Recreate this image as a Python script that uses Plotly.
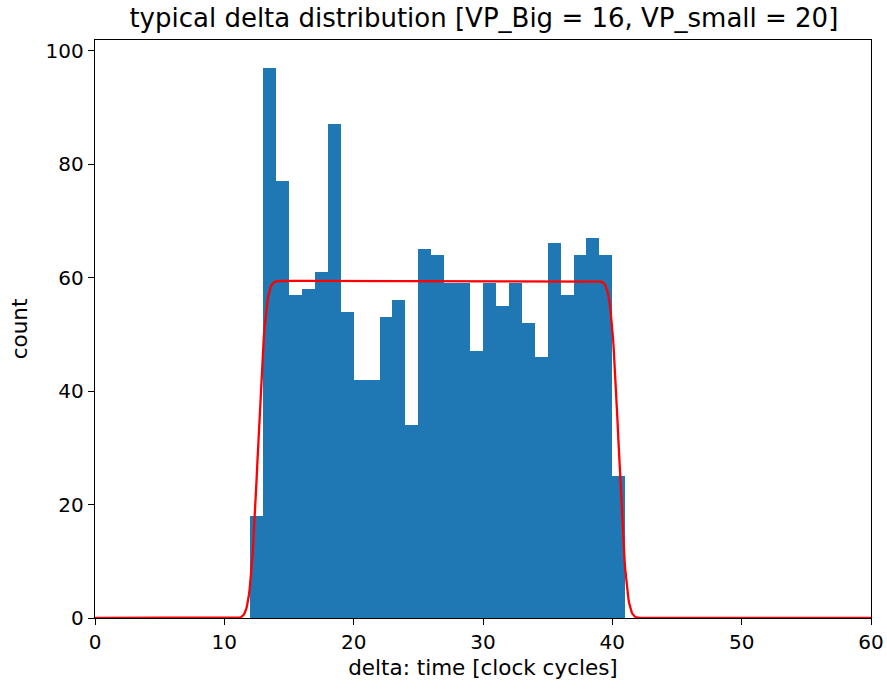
import math
import numpy as np
import plotly.graph_objects as go

# Histogram of delta (one bin per clock cycle, left edges)
bin_left = list(range(12, 41))
counts = [18, 97, 77, 57, 58, 61, 87, 54, 42, 42, 53, 56, 34, 65, 64,
          59, 59, 47, 59, 55, 59, 52, 46, 66, 57, 64, 67, 64, 25]

# Fitted flat-top model: uniform window smeared by a Gaussian edge
fit_amplitude = 59.4
fit_low = 12.6
fit_high = 40.5
fit_sigma = 0.47

x_tick_vals = [0, 10, 20, 30, 40, 50, 60]
y_tick_vals = [0, 20, 40, 60, 80, 100]

xs = np.linspace(0, 60, 1201)
root2 = math.sqrt(2.0)
ys = [fit_amplitude * 0.5 * (math.erf((x - fit_low) / (fit_sigma * root2))
                             - math.erf((x - fit_high) / (fit_sigma * root2)))
      for x in xs]

fig = go.Figure()
fig.add_trace(go.Bar(
    x=bin_left, y=counts, width=1, offset=0,
    marker=dict(color="#1f77b4", line=dict(width=0)),
    showlegend=False,
))
fig.add_trace(go.Scatter(
    x=xs, y=ys, mode="lines",
    line=dict(color="#ff0000", width=2.3),
    showlegend=False,
))

axis_common = dict(
    showgrid=False, zeroline=False, automargin=False,
    showline=True, linecolor="black", linewidth=1.4, mirror=True,
    ticks="outside", ticklen=6, tickwidth=1.4, tickcolor="black",
    tickfont=dict(family="DejaVu Sans", size=20, color="black"),
)

fig.update_layout(
    width=887, height=690,
    margin=dict(l=95, r=16, t=40, b=72),
    paper_bgcolor="white", plot_bgcolor="white",
    bargap=0,
    title=dict(
        text="typical delta distribution [VP_Big = 16, VP_small = 20]",
        font=dict(family="DejaVu Sans", size=26, color="black"),
        x=0.5455, xanchor="center", y=0.974, yanchor="middle",
    ),
    xaxis=dict(
        range=[0, 60], tickvals=x_tick_vals,
        title=dict(text="delta: time [clock cycles]",
                   font=dict(family="DejaVu Sans", size=21.5, color="black"),
                   standoff=6),
        **axis_common,
    ),
    yaxis=dict(
        range=[0, 101.85], tickvals=y_tick_vals,
        title=dict(text="count",
                   font=dict(family="DejaVu Sans", size=21.5, color="black"),
                   standoff=12),
        **axis_common,
    ),
)

fig.write_html("out.html")
